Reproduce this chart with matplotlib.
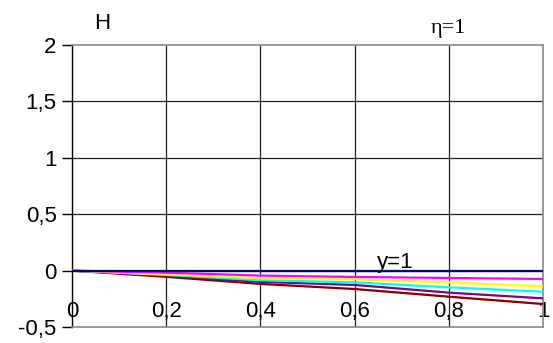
import numpy as np
import matplotlib.pyplot as plt

# x positions along the plate
x = [0, 0.2, 0.4, 0.6, 0.8, 1.0]

# H profiles, one per curve
h_blue = [0, 0, 0, 0, 0, 0]
h_magenta = [0, -0.018, -0.044, -0.056, -0.065, -0.074]
h_yellow = [0, -0.033, -0.067, -0.076, -0.104, -0.139]
h_cyan = [0, -0.038, -0.085, -0.104, -0.148, -0.187]
h_purple = [0, -0.045, -0.100, -0.127, -0.195, -0.246]
h_darkred = [0, -0.055, -0.118, -0.163, -0.231, -0.296]

series = [h_blue, h_magenta, h_yellow, h_cyan, h_purple, h_darkred]
colors = ['#000080', '#FF00FF', '#FFFF00', '#00FFFF', '#800080', '#800000']

xticks = [0, 0.2, 0.4, 0.6, 0.8, 1.0]
xtick_labels = ['0', '0,2', '0,4', '0,6', '0,8', '1']
yticks = [-0.5, 0, 0.5, 1, 1.5, 2]
ytick_labels = ['-0,5', '0', '0,5', '1', '1,5', '2']

plt.rcParams['font.family'] = ['Liberation Sans', 'DejaVu Sans']

fig = plt.figure(figsize=(5.53, 3.43), dpi=100)
ax = fig.add_axes([0.130, 0.0466, 0.852, 0.822])

# grid
for xv in xticks[1:-1]:
    ax.axvline(xv, color='#222222', lw=0.9, zorder=1)
for yv in yticks[1:-1]:
    ax.axhline(yv, color='#222222', lw=0.9, zorder=1)

# order: draw lower curves first so the blue one ends on top
for h, c in zip(series[::-1], colors[::-1]):
    ax.plot(x, h, color=c, lw=1.6, zorder=3)

ax.set_xlim(0, 1)
ax.set_ylim(-0.5, 2)

for s in ['top', 'right', 'bottom']:
    ax.spines[s].set_color('#888888')
    ax.spines[s].set_linewidth(1.2)
ax.spines['left'].set_color('black')
ax.spines['left'].set_linewidth(1.0)

ax.set_yticks(yticks)
ax.set_yticklabels(ytick_labels, fontsize=16)
ax.tick_params(axis='y', direction='out', length=7, width=1, pad=4)
ax.set_xticks([])

# x tick labels sit just below the zero line, like the Excel chart
for xv, lab in zip(xticks, xtick_labels):
    ax.text(xv, -0.36, lab, ha='center', va='center', fontsize=16, zorder=2)

ax.text(0.064, 2.19, 'H', ha='center', va='center', fontsize=16, clip_on=False)
ax.text(0.80, 2.15, 'η=1', ha='center', va='center', fontsize=16,
        family=['Liberation Serif', 'DejaVu Serif'], clip_on=False)
ax.text(0.686, 0.075, 'y=1', ha='center', va='center', fontsize=16)

fig.savefig('out.png', dpi=100)
